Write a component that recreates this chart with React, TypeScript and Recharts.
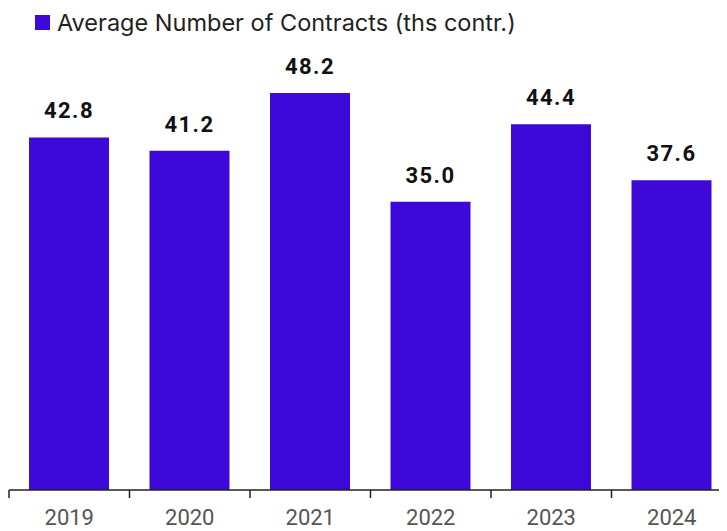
import { BarChart, Bar, XAxis, YAxis, LabelList } from 'recharts';

const years = ['2019', '2020', '2021', '2022', '2023', '2024'];
const contracts = [42.8, 41.2, 48.2, 35.0, 44.4, 37.6];
const seriesName = 'Average Number of Contracts (ths contr.)';

const data = years.map((year, i) => ({ year, contracts: contracts[i] }));

// the source chart runs a little past the right edge of the frame, so it's clipped
const VIEW_W = 719;
const W = 724;
const H = 523;
const M = { top: 29, right: 0, bottom: 0, left: 1 };
const BAND = (W - M.left - M.right) / years.length;
const BAR = '#3c09d9';

// year label at the centre, tick mark on the left edge of each band
const YearTick = (props: any) => {
    const { x, y, payload } = props;
    const left = x - BAND / 2;
    return (
        <g>
            <line x1={left} y1={y - 8} x2={left} y2={y} stroke="#222" strokeWidth={1.5} />
            <text x={x} y={y + 27} textAnchor="middle" fill="#555" fontSize={22} fontFamily="Roboto">
                {payload.value}
            </text>
        </g>
    );
};

export default function App() {
    return (
        <div style={{ position: 'relative', width: VIEW_W, height: H, overflow: 'hidden' }}>
            <div
                style={{
                    position: 'absolute',
                    left: 27,
                    top: 0,
                    display: 'flex',
                    alignItems: 'center',
                    fontFamily: 'Inter',
                    fontSize: 23.5,
                    color: '#222',
                    whiteSpace: 'nowrap',
                }}
            >
                <span style={{ width: 15, height: 15, background: BAR, marginRight: 7, display: 'inline-block' }} />
                {seriesName}
            </div>
            <BarChart width={W} height={H} data={data} margin={M}>
                <XAxis
                    dataKey="year"
                    height={41}
                    axisLine={{ stroke: '#222', strokeWidth: 1.5 }}
                    tickLine={false}
                    tick={<YearTick />}
                    interval={0}
                />
                <YAxis hide domain={[0, 55]} />
                <Bar dataKey="contracts" fill={BAR} barSize={80} isAnimationActive={false}>
                    <LabelList
                        dataKey="contracts"
                        position="top"
                        offset={19}
                        formatter={(v: any) => Number(v).toFixed(1)}
                        style={{ fontFamily: 'Roboto', fontWeight: 700, fontSize: 22, letterSpacing: 1.5, fill: '#111' }}
                    />
                </Bar>
            </BarChart>
        </div>
    );
}
